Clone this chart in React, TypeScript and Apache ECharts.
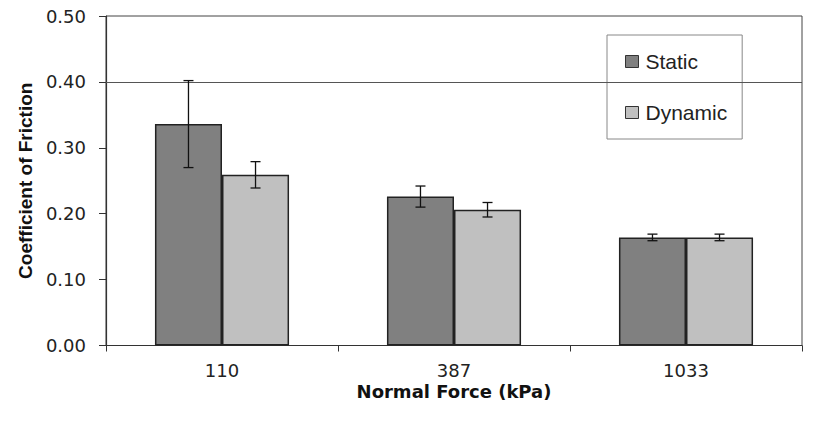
import React, { useEffect, useRef } from "react";
import * as echarts from "echarts";

const categories = ["110", "387", "1033"];
const staticMean = [0.336, 0.226, 0.164];
const staticErr = [0.066, 0.016, 0.005];
const dynamicMean = [0.259, 0.206, 0.164];
const dynamicErr = [0.02, 0.011, 0.005];
const yTicks = { min: 0, max: 0.5, interval: 0.1 };
const refLine = 0.4;

const BAR_FRAC = 0.289;
const FONT = "'Liberation Sans', Arial, sans-serif";
const WIDE = "'DejaVu Sans', sans-serif";

function errData(mean: number[], err: number[]) {
  return mean.map((m, i) => [i, m - err[i], m + err[i]]);
}

function makeErrSeries(name: string, mean: number[], err: number[], sign: number) {
  return {
    type: "custom",
    name: name + " err",
    data: errData(mean, err),
    encode: { x: 0, y: [1, 2] },
    z: 5,
    silent: true,
    renderItem: (params: any, api: any) => {
      const c = api.value(0);
      const lo = api.coord([c, api.value(1)]);
      const hi = api.coord([c, api.value(2)]);
      const catW = api.size([1, 0])[0];
      const x = lo[0] + (sign * catW * BAR_FRAC) / 2;
      const cap = 5;
      const style = { stroke: "#111", lineWidth: 1.3 };
      return {
        type: "group",
        children: [
          { type: "line", shape: { x1: x, y1: lo[1], x2: x, y2: hi[1] }, style },
          { type: "line", shape: { x1: x - cap, y1: lo[1], x2: x + cap, y2: lo[1] }, style },
          { type: "line", shape: { x1: x - cap, y1: hi[1], x2: x + cap, y2: hi[1] }, style },
        ],
      };
    },
  };
}

export default function App() {
  const ref = useRef<HTMLDivElement>(null);
  useEffect(() => {
    if (!ref.current) return;
    const chart = echarts.init(ref.current, null, { renderer: "svg" });
    chart.setOption({
      animation: false,
      backgroundColor: "#fff",
      textStyle: { fontFamily: FONT },
      grid: {
        left: 106,
        right: 20,
        top: 16,
        bottom: 75.5,
        show: true,
        borderColor: "#444",
        borderWidth: 1,
        backgroundColor: "transparent",
      },
      legend: {
        orient: "vertical",
        left: 607,
        top: 35,
        padding: [16, 15, 16, 18],
        itemGap: 30,
        itemWidth: 13,
        itemHeight: 12,
        backgroundColor: "#fff",
        borderColor: "#888",
        borderWidth: 1,
        borderRadius: 0,
        icon: "rect",
        itemStyle: { borderColor: "#333", borderWidth: 1 },
        textStyle: { fontFamily: FONT, fontSize: 21, color: "#222", padding: [0, 0, 0, 2] },
        data: ["Static", "Dynamic"],
      },
      xAxis: {
        type: "category",
        data: categories,
        name: "Normal Force (kPa)",
        nameLocation: "middle",
        nameGap: 37,
        nameMoveOverlap: false,
        nameTextStyle: { fontFamily: WIDE, fontSize: 18, fontWeight: "bold", color: "#111" },
        axisLine: { lineStyle: { color: "#333", width: 1.2 } },
        axisTick: { show: true, length: 6, lineStyle: { color: "#333" } },
        axisLabel: { fontFamily: WIDE, fontSize: 18, color: "#222", margin: 16 },
        splitLine: { show: false },
      },
      yAxis: {
        type: "value",
        min: yTicks.min,
        max: yTicks.max,
        interval: yTicks.interval,
        name: "Coefficient of Friction",
        nameLocation: "middle",
        nameGap: 71,
        nameMoveOverlap: false,
        nameTextStyle: { fontFamily: FONT, fontSize: 19, fontWeight: "bold", color: "#111" },
        axisLine: { show: true, lineStyle: { color: "#333", width: 1.2 } },
        axisTick: { show: true, length: 7, lineStyle: { color: "#333" } },
        axisLabel: {
          fontFamily: WIDE,
          fontSize: 18,
          color: "#222",
          margin: 20,
          formatter: (v: number) => v.toFixed(2),
        },
        splitLine: { show: false },
      },
      series: [
        {
          type: "bar",
          name: "Static",
          data: staticMean,
          barWidth: "28.9%",
          barGap: "0%",
          itemStyle: { color: "#808080", borderColor: "#222", borderWidth: 1.5 },
          markLine: {
            silent: true,
            symbol: "none",
            label: { show: false },
            lineStyle: { color: "#555", width: 1, type: "solid" },
            data: [{ yAxis: refLine }],
          },
        },
        {
          type: "bar",
          name: "Dynamic",
          data: dynamicMean,
          barWidth: "28.9%",
          barGap: "0%",
          itemStyle: { color: "#c0c0c0", borderColor: "#222", borderWidth: 1.5 },
        },
        makeErrSeries("Static", staticMean, staticErr, -1),
        makeErrSeries("Dynamic", dynamicMean, dynamicErr, 1),
      ],
    });
    return () => chart.dispose();
  }, []);
  return (
    <div
      ref={ref}
      style={{ position: "fixed", left: 0, top: 0, width: 822, height: 421 }}
    />
  );
}
